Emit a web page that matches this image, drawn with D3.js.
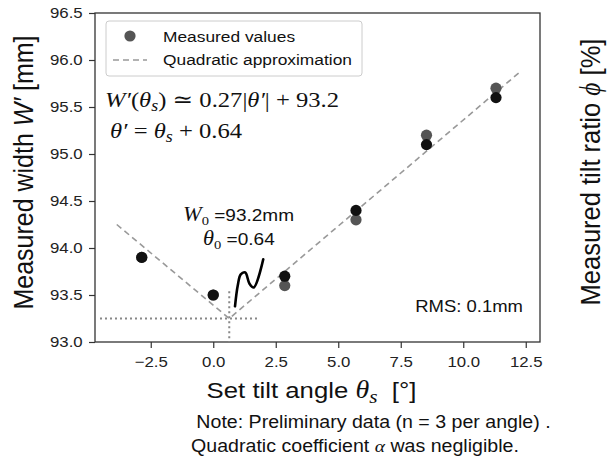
<!DOCTYPE html>
<html>
<head>
<meta charset="utf-8">
<script src="https://cdn.jsdelivr.net/npm/d3@7"></script>
<style>
  body { margin: 0; background: #fff; }
  svg { font-family: "Liberation Sans", Arial, sans-serif; }
  .math { font-family: "Liberation Serif", "DejaVu Serif", serif; }
</style>
</head>
<body>
<svg id="chart" width="608" height="459"></svg>
<script>
// Data
const angles = [-2.86, 0, 2.86, 5.71, 8.53, 11.31];
const widthsA = [93.9, 93.5, 93.6, 94.3, 95.2, 95.7];   // gray (legend marker)
const widthsB = [93.9, 93.5, 93.7, 94.4, 95.1, 95.6];   // black
const fitX = [-3.86, 0.64, 12.3];
const fitY = [94.25, 93.25, 95.88];
const vertexX = 0.64, vertexY = 93.25;
const guideXStart = -4.53, guideXEnd = 1.87, guideYTop = 93.54;
const squiggleX = [0.87, 0.98, 1.1, 1.28, 1.45, 1.62, 2.0];
const squiggleY = [93.38, 93.6, 93.72, 93.74, 93.62, 93.58, 93.88];
const xTicks = [-2.5, 0, 2.5, 5, 7.5, 10, 12.5];
const yTicks = [93.0, 93.5, 94.0, 94.5, 95.0, 95.5, 96.0, 96.5];

const SX = 1.12; // text in the picture is a little wide
const svg = d3.select("#chart");
const margin = { top: 13, right: 68, bottom: 117, left: 95 };
const W = 608, H = 459;

const x = d3.scaleLinear().domain([-4.73, 13.07]).range([margin.left, W - margin.right]);
const y = d3.scaleLinear().domain([93.0, 96.5]).range([H - margin.bottom, margin.top]);

function at(sel, px, py) {
  return sel.attr("transform", `translate(${px},${py}) scale(${SX},1)`);
}

// Axes
const xAxis = svg.append("g")
  .attr("transform", `translate(0,${H - margin.bottom})`)
  .call(d3.axisBottom(x).tickValues(xTicks).tickSize(6).tickPadding(8));
const yAxis = svg.append("g")
  .attr("transform", `translate(${margin.left},0)`)
  .call(d3.axisLeft(y).tickValues(yTicks).tickFormat(d3.format(".1f")).tickSize(6).tickPadding(5));

[xAxis, yAxis].forEach(a => {
  a.select(".domain").remove();
  a.selectAll("text").attr("font-size", 15).attr("fill", "#222")
    .attr("font-family", "'Liberation Sans', Arial, sans-serif")
    .attr("transform", `scale(${SX},1)`);
  a.selectAll("line").attr("stroke", "#333").attr("stroke-width", 1.2);
});
xAxis.selectAll("text").text(d => d < 0 ? "\u2212" + Math.abs(d).toFixed(1) : d.toFixed(1));

// Frame
svg.append("rect")
  .attr("x", margin.left).attr("y", margin.top)
  .attr("width", W - margin.left - margin.right)
  .attr("height", H - margin.top - margin.bottom)
  .attr("fill", "none").attr("stroke", "#333").attr("stroke-width", 1.3);

// Guide dotted lines
svg.append("line")
  .attr("x1", x(guideXStart)).attr("x2", x(guideXEnd))
  .attr("y1", y(vertexY)).attr("y2", y(vertexY))
  .attr("stroke", "#888").attr("stroke-width", 2).attr("stroke-dasharray", "2,3");
svg.append("line")
  .attr("x1", x(vertexX)).attr("x2", x(vertexX))
  .attr("y1", y(guideYTop)).attr("y2", y(93.0))
  .attr("stroke", "#888").attr("stroke-width", 2).attr("stroke-dasharray", "2,3");

// Fit line
const fitLine = d3.line().x(d => x(d[0])).y(d => y(d[1]));
svg.append("path")
  .datum(fitX.map((v, i) => [v, fitY[i]]))
  .attr("d", fitLine)
  .attr("fill", "none").attr("stroke", "#999").attr("stroke-width", 1.6)
  .attr("stroke-dasharray", "6,4");

// Points
svg.append("g").selectAll("circle")
  .data(angles.map((a, i) => [a, widthsA[i]]))
  .join("circle")
  .attr("cx", d => x(d[0])).attr("cy", d => y(d[1])).attr("r", 5.6)
  .attr("fill", "#555");
svg.append("g").selectAll("circle")
  .data(angles.map((a, i) => [a, widthsB[i]]))
  .join("circle")
  .attr("cx", d => x(d[0])).attr("cy", d => y(d[1])).attr("r", 5.6)
  .attr("fill", "#111");

// Squiggle
svg.append("path")
  .datum(squiggleX.map((v, i) => [v, squiggleY[i]]))
  .attr("d", d3.line().x(d => x(d[0])).y(d => y(d[1])).curve(d3.curveCatmullRom))
  .attr("fill", "none").attr("stroke", "#000").attr("stroke-width", 2.6)
  .attr("stroke-linecap", "round");

// Legend
const lg = svg.append("g");
lg.append("rect")
  .attr("x", 106).attr("y", 21).attr("width", 256).attr("height", 55).attr("rx", 3)
  .attr("fill", "#fff").attr("stroke", "#ccc").attr("stroke-width", 1);
lg.append("circle").attr("cx", 130).attr("cy", 36).attr("r", 5.6).attr("fill", "#555");
lg.append("line").attr("x1", 113).attr("x2", 147).attr("y1", 60).attr("y2", 60)
  .attr("stroke", "#999").attr("stroke-width", 1.6).attr("stroke-dasharray", "6,4");
at(lg.append("text"), 163, 41.5).attr("font-size", 15.5).attr("fill", "#111").text("Measured values");
at(lg.append("text"), 163, 65).attr("font-size", 15.5).attr("fill", "#111").text("Quadratic approximation");

// Equations
const eq1 = at(svg.append("text"), 105, 107).attr("class", "math").attr("font-size", 22).attr("fill", "#111");
eq1.append("tspan").attr("font-style", "italic").text("W\u2032");
eq1.append("tspan").text("(");
eq1.append("tspan").attr("font-style", "italic").text("\u03b8");
eq1.append("tspan").attr("font-style", "italic").attr("font-size", 16).attr("dy", 4).text("s");
eq1.append("tspan").attr("dy", -4).text(") \u2243 0.27|");
eq1.append("tspan").attr("font-style", "italic").text("\u03b8\u2032");
eq1.append("tspan").text("| + 93.2");

const eq2 = at(svg.append("text"), 110, 138).attr("class", "math").attr("font-size", 22).attr("fill", "#111");
eq2.append("tspan").attr("font-style", "italic").text("\u03b8\u2032");
eq2.append("tspan").text(" = ");
eq2.append("tspan").attr("font-style", "italic").text("\u03b8");
eq2.append("tspan").attr("font-style", "italic").attr("font-size", 16).attr("dy", 4).text("s");
eq2.append("tspan").attr("dy", -4).text(" + 0.64");

// Vertex annotation
const a1 = at(svg.append("text"), 183, 221).attr("font-size", 17).attr("fill", "#111");
a1.append("tspan").attr("class", "math").attr("font-style", "italic").attr("font-size", 20).text("W");
a1.append("tspan").attr("class", "math").attr("font-size", 13).attr("dy", 4).text("0");
a1.append("tspan").attr("dy", -4).text(" =93.2mm");
const a2 = at(svg.append("text"), 203, 245).attr("font-size", 17).attr("fill", "#111");
a2.append("tspan").attr("class", "math").attr("font-style", "italic").attr("font-size", 20).text("\u03b8");
a2.append("tspan").attr("class", "math").attr("font-size", 13).attr("dy", 4).text("0");
a2.append("tspan").attr("dy", -4).text(" =0.64");

// RMS
at(svg.append("text"), 523, 312).attr("text-anchor", "end")
  .attr("font-size", 16.5).attr("fill", "#111").text("RMS: 0.1mm");

// Axis labels
const yl = svg.append("text")
  .attr("transform", `translate(33,172.5) scale(${SX},1) rotate(-90)`)
  .attr("text-anchor", "middle").attr("font-size", 25).attr("fill", "#111");
yl.append("tspan").text("Measured width ");
yl.append("tspan").attr("font-style", "italic").text("W\u2032");
yl.append("tspan").text(" [mm]");

const yr = svg.append("text")
  .attr("transform", `translate(600,172) scale(${SX},1) rotate(-90)`)
  .attr("text-anchor", "middle").attr("font-size", 25.5).attr("fill", "#111");
yr.append("tspan").text("Measured tilt ratio ");
yr.append("tspan").attr("class", "math").attr("font-style", "italic").text("\u03d5");
yr.append("tspan").text(" [%]");

const xl = at(svg.append("text"), 311.5, 398).attr("text-anchor", "middle").attr("font-size", 23)
  .attr("fill", "#111").style("white-space", "pre");
xl.append("tspan").text("Set tilt angle ");
xl.append("tspan").attr("class", "math").attr("font-style", "italic").attr("font-size", 25).text("\u03b8");
xl.append("tspan").attr("class", "math").attr("font-style", "italic").attr("font-size", 19).attr("dy", 5).text("s");
xl.append("tspan").attr("dy", -5).text("  [\u00b0]");

// Notes
at(svg.append("text"), 373.5, 428).attr("text-anchor", "middle")
  .attr("font-size", 17.5).attr("fill", "#111").text("Note: Preliminary data (n = 3 per angle) .");
const n2 = at(svg.append("text"), 355, 452).attr("text-anchor", "middle")
  .attr("font-size", 17.5).attr("fill", "#111");
n2.append("tspan").text("Quadratic coefficient ");
n2.append("tspan").attr("class", "math").attr("font-style", "italic").text("\u03b1");
n2.append("tspan").text(" was negligible.");
</script>
</body>
</html>
